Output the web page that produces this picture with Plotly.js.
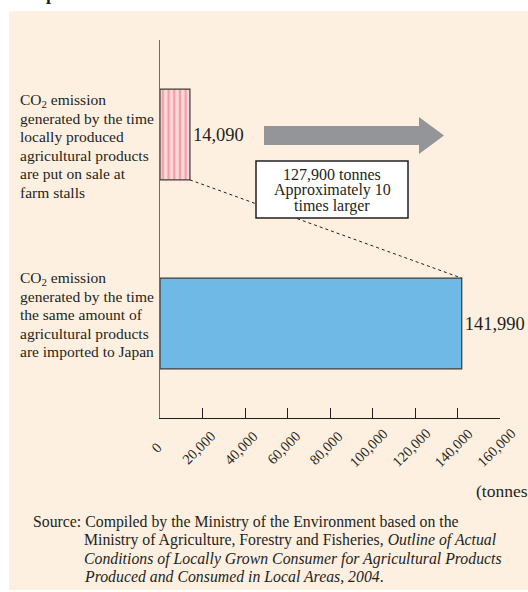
<!DOCTYPE html>
<html>
<head>
<meta charset="utf-8">
<script src="https://cdn.plot.ly/plotly-3.0.1.min.js"></script>
<style>html,body{margin:0;padding:0;background:#fff;}#chart{width:528px;height:592px;}</style>
</head>
<body>
<div id="chart"></div>
<script>
// ---- data ----
const categoryLines = [
  ["CO<sub>2</sub> emission", "generated by the time", "locally produced", "agricultural products", "are put on sale at", "farm stalls"],
  ["CO<sub>2</sub> emission", "generated by the time", "the same amount of", "agricultural products", "are imported to Japan"]
];
const localValue = 14090;
const importedValue = 141990;
const tickValues = [0, 20000, 40000, 60000, 80000, 100000, 120000, 140000, 160000];
const differenceLines = ["127,900 tonnes", "Approximately 10", "times larger"];
const unitLabel = "(tonnes)";
const titleText = "Imported Products";
const sourceLines = [
  "Source: Compiled by the Ministry of the Environment based on the",
  "Ministry of Agriculture, Forestry and Fisheries, <i>Outline of Actual</i>",
  "<i>Conditions of Locally Grown Consumer for Agricultural Products</i>",
  "<i>Produced and Consumed in Local Areas, 2004</i>."
];

// ---- layout helpers (pixel -> paper) ----
const W = 528, H = 592;
const L = 160, R = 500, T = 40, B = 418;
const px = p => (p - L) / (R - L);
const py = p => (B - p) / (B - T);
const serif = "Liberation Serif, Times New Roman, serif";
const ink = "#231f20";
const barWidth = 0.48;
const fmt = v => v.toLocaleString("en-US");

const annotations = [];
const catTop = [100, 278];
categoryLines.forEach((lines, ci) => {
  lines.forEach((t, li) => {
    annotations.push({xref: "paper", yref: "paper", x: px(18), y: py(catTop[ci] + li * 18.4),
      xanchor: "left", yanchor: "middle", text: t, showarrow: false,
      font: {family: serif, size: 15.5, color: ink}});
  });
});
differenceLines.forEach((t, i) => {
  annotations.push({xref: "paper", yref: "paper", x: px(332), y: py(174 + i * 16),
    xanchor: "center", yanchor: "middle", text: t, showarrow: false,
    font: {family: serif, size: 16, color: ink}});
});
tickValues.forEach(v => {
  annotations.push({xref: "x", yref: "paper", x: v, y: py(448), xshift: -4,
    xanchor: "center", yanchor: "middle", textangle: -45, text: fmt(v), showarrow: false,
    font: {family: serif, size: 14.5, color: ink}});
});
annotations.push({xref: "paper", yref: "paper", x: px(474), y: py(491), xanchor: "left", yanchor: "middle",
  text: unitLabel, showarrow: false, font: {family: serif, size: 17.5, color: ink}});
sourceLines.forEach((t, i) => {
  annotations.push({xref: "paper", yref: "paper", x: px(i === 0 ? 31 : 82), y: py(522 + i * 18.3),
    xanchor: "left", yanchor: "middle", text: t, showarrow: false,
    font: {family: serif, size: 15.8, color: ink}});
});
annotations.push({xref: "paper", yref: "paper", x: px(22), y: py(6), xanchor: "left", yanchor: "bottom",
  text: "<b>" + titleText + "</b>", showarrow: false, font: {family: serif, size: 18, color: ink}});

const arrowPath = (() => {
  const x0 = px(264), x1 = px(419), x2 = px(444);
  const ys0 = py(126), ys1 = py(145), yh0 = py(117), yh1 = py(154), ym = py(135.5);
  return `M${x0},${ys0} L${x1},${ys0} L${x1},${yh0} L${x2},${ym} L${x1},${yh1} L${x1},${ys1} L${x0},${ys1} Z`;
})();

const shapes = [
  {type: "rect", xref: "paper", yref: "paper", x0: px(9), x1: px(W + 5), y0: py(11), y1: py(590),
    fillcolor: "#fdf0e1", line: {width: 0}, layer: "below"},
  {type: "path", xref: "paper", yref: "paper", path: arrowPath, fillcolor: "#939598", line: {width: 0}},
  {type: "line", xref: "x", yref: "y", x0: localValue, y0: 0 + barWidth / 2, x1: importedValue, y1: 1 - barWidth / 2,
    line: {color: ink, width: 1, dash: "3px,3px"}},
  {type: "rect", xref: "paper", yref: "paper", x0: px(256), x1: px(408), y0: py(161), y1: py(218),
    fillcolor: "#ffffff", line: {color: ink, width: 1.5}}
];

const textfont = {family: serif, size: 18.5, color: ink};
const localTrace = {
  type: "bar", orientation: "h", x: [localValue], y: [0], width: barWidth,
  marker: {color: "#fcdcdc", line: {color: "#3a3a3a", width: 1.2},
    pattern: {shape: "|", fillmode: "replace", bgcolor: "#fcdcdc", fgcolor: "#f59fa3", fgopacity: 1, size: 5.7, solidity: 0.42}},
  text: [fmt(localValue)], textposition: "outside", constraintext: "none", cliponaxis: false,
  textfont: textfont, hoverinfo: "skip"
};
const importedTrace = {
  type: "bar", orientation: "h", x: [importedValue], y: [1], width: barWidth,
  marker: {color: "#6fb9e6", line: {color: "#3a3a3a", width: 1.2}},
  text: [fmt(importedValue)], textposition: "outside", constraintext: "none", cliponaxis: false,
  textfont: textfont, hoverinfo: "skip"
};

const layout = {
  width: W, height: H,
  margin: {l: L, r: W - R, t: T, b: H - B, pad: 0},
  paper_bgcolor: "#ffffff", plot_bgcolor: "rgba(0,0,0,0)",
  showlegend: false, barmode: "overlay",
  xaxis: {range: [0, 160000], tickvals: tickValues, showticklabels: false,
    ticks: "inside", ticklen: 10, tickcolor: ink, tickwidth: 1,
    showline: true, linecolor: ink, linewidth: 1.2, showgrid: false, zeroline: false, fixedrange: true},
  yaxis: {range: [1.5, -0.5], showticklabels: false, ticks: "", showline: true, linecolor: "#6d6e71",
    linewidth: 1.5, showgrid: false, zeroline: false, fixedrange: true},
  shapes: shapes,
  annotations: annotations
};

Plotly.newPlot("chart", [localTrace, importedTrace], layout, {displayModeBar: false, staticPlot: true});
</script>
</body>
</html>
